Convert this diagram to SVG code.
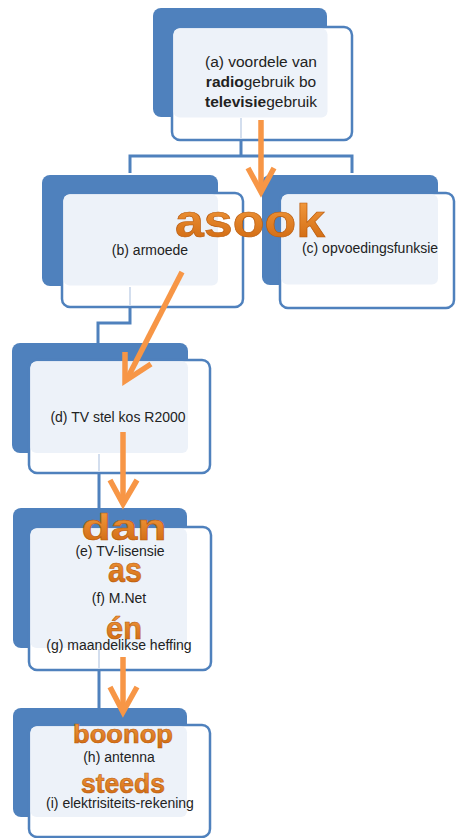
<svg xmlns="http://www.w3.org/2000/svg" width="456" height="838" viewBox="0 0 456 838">
<defs>
<linearGradient id="og" x1="0" y1="0" x2="0" y2="1">
<stop offset="0" stop-color="#f7a043"/>
<stop offset="1" stop-color="#cc640c"/>
</linearGradient>
<style>
.back{fill:#4f81bd}
.front{fill:#ffffff;stroke:#4f81bd;stroke-width:2.5}
.light{fill:#edf2f9}
.t{font-family:"Liberation Sans",Arial,sans-serif;font-size:14px;fill:#222222;text-anchor:middle}
.ta{font-size:15.5px}
.b{font-weight:bold}
.big{font-family:"Liberation Sans",Arial,sans-serif;font-weight:bold;fill:url(#og);stroke:#b85a0c;stroke-width:0.6;text-anchor:middle}
.elbow{fill:none;stroke:#4f81bd;stroke-width:3}
.faint{fill:none;stroke:#d3deee;stroke-width:2}
.arr{fill:none;stroke:#f79646;stroke-width:5.5;stroke-linejoin:miter}
</style>
</defs>
<rect width="456" height="838" fill="#ffffff"/>

<g id="connectors">
<g id="tree-lines">
<path class="elbow" d="M241,140 V156"/>
<path class="elbow" d="M130,173 V156 H352 V173"/>
<path class="elbow" d="M130,307 V323 H98 V343"/>
<path class="elbow" d="M99,473 V508"/>
<path class="elbow" d="M99,670 V708"/>
</g>
</g>

<g id="node-a">
<rect class="back" x="153" y="8" width="174" height="109" rx="8"/>
<rect class="front" x="172" y="27" width="180" height="113" rx="8"/>
<rect class="light" x="173.5" y="28.5" width="154" height="89" rx="6"/>
<path class="faint" d="M241,118 V139"/>
<text class="t ta" x="261" y="67">(a) voordele van</text>
<text class="t ta" x="261" y="87"><tspan class="b">radio</tspan>gebruik bo</text>
<text class="t ta" x="261" y="107"><tspan class="b">televisie</tspan>gebruik</text>
</g>

<g id="node-b">
<rect class="back" x="42" y="175" width="176" height="111" rx="8"/>
<rect class="front" x="62" y="193" width="181" height="114" rx="8"/>
<rect class="light" x="63.5" y="194.5" width="154.5" height="91" rx="6"/>
<path class="faint" d="M130,287 V306"/>
<text class="t" x="150" y="255">(b) armoede</text>
</g>

<g id="node-c">
<rect class="back" x="262" y="175" width="176" height="110" rx="8"/>
<rect class="front" x="280" y="193" width="174" height="115" rx="8"/>
<rect class="light" x="281.5" y="194.5" width="156.5" height="90" rx="6"/>
<text class="t" x="370" y="253">(c) opvoedingsfunksie</text>
</g>

<g id="node-d">
<rect class="back" x="12" y="343" width="176" height="110" rx="8"/>
<rect class="front" x="29" y="360" width="181" height="113" rx="8"/>
<rect class="light" x="30.5" y="361.5" width="157.5" height="91.5" rx="6"/>
<path class="faint" d="M99,454 V472"/>
<text class="t" x="118" y="422">(d) TV stel kos R2000</text>
</g>

<g id="node-e">
<rect class="back" x="13" y="508" width="174" height="140" rx="8"/>
<rect class="front" x="29" y="527" width="182" height="143" rx="8"/>
<rect class="light" x="30.5" y="528.5" width="156.5" height="119.5" rx="6"/>
<path class="faint" d="M99,649 V669"/>
<text class="big" x="124" y="540" font-size="36" textLength="85" lengthAdjust="spacingAndGlyphs">dan</text>
<text class="t" x="120" y="556">(e) TV-lisensie</text>
<text class="big" x="125" y="582" font-size="35" textLength="34" lengthAdjust="spacingAndGlyphs">as</text>
<text class="t" x="119" y="603">(f) M.Net</text>
<text class="big" x="124" y="639" font-size="32" textLength="36" lengthAdjust="spacingAndGlyphs">én</text>
<text class="t" x="119" y="650">(g) maandelikse heffing</text>
</g>

<g id="node-h">
<rect class="back" x="13" y="708" width="174" height="109" rx="8"/>
<rect class="front" x="29" y="725" width="181" height="112" rx="8"/>
<rect class="light" x="30.5" y="726.5" width="156.5" height="90.5" rx="6"/>
<text class="big" x="123" y="743" font-size="26" textLength="100" lengthAdjust="spacingAndGlyphs">boonop</text>
<text class="t" x="119" y="762">(h) antenna</text>
<text class="big" x="123" y="793" font-size="28" textLength="84" lengthAdjust="spacingAndGlyphs">steeds</text>
<text class="t" x="120" y="808">(i) elektrisiteits-rekening</text>
</g>

<g id="arrows">
<path class="arr" d="M261,120 V191"/>
<path class="arr" d="M248,168 L261,192 L274,168"/>
<path class="arr" d="M182,272 L127,379"/>
<path class="arr" d="M125,352 L125,381 L151,364"/>
<path class="arr" d="M123,432 V503"/>
<path class="arr" d="M110,480 L123,504 L137,480"/>
<path class="arr" d="M123,657 V711"/>
<path class="arr" d="M110,687 L123,712 L137,687"/>
</g>

<g id="label-asook">
<text class="big" x="250" y="237" font-size="46" textLength="150" lengthAdjust="spacingAndGlyphs">asook</text>
</g>
</svg>
